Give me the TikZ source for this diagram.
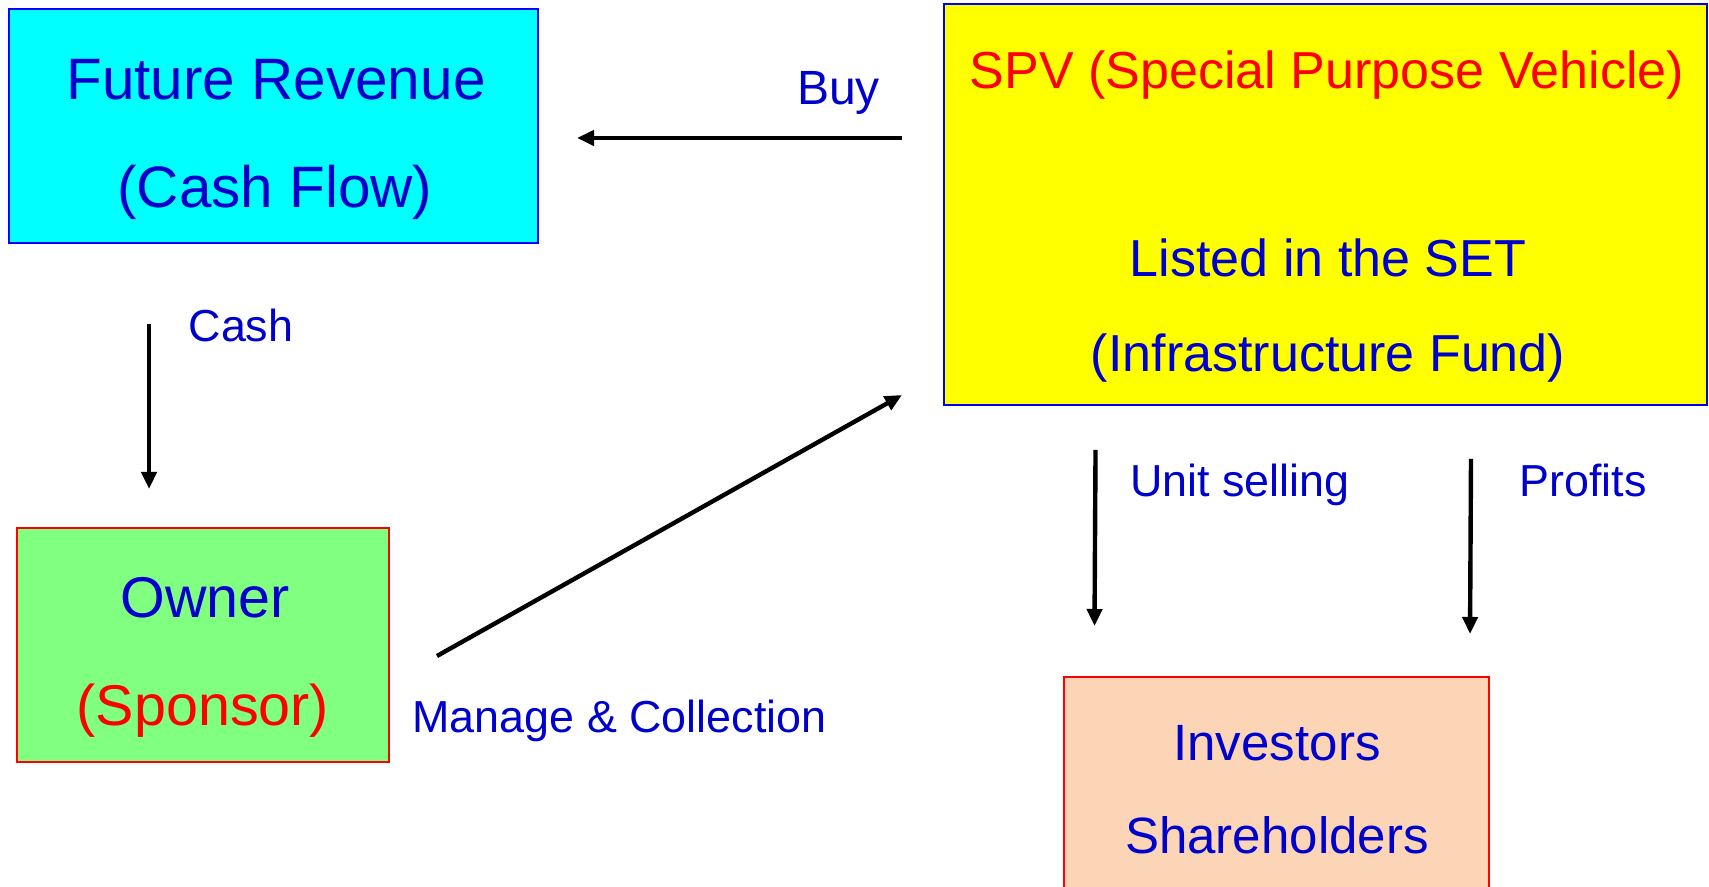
\documentclass[tikz,border=0pt]{standalone}
\usepackage{fontspec}
\setmainfont{Liberation Sans}
\usetikzlibrary{arrows.meta}

\definecolor{txtblue}{RGB}{0,0,204}
\definecolor{boxblue}{RGB}{0,0,255}
\definecolor{revcyan}{RGB}{0,255,255}
\definecolor{spvyellow}{RGB}{255,255,0}
\definecolor{owngreen}{RGB}{128,255,128}
\definecolor{invpeach}{RGB}{251,213,181}

\tikzset{
    box/.style={draw, line width=1.4pt, inner sep=0pt},
    boxtext/.style={anchor=base, inner sep=0pt, font=\fontsize{#1}{#1}\selectfont},
    lbl/.style={anchor=base, inner sep=0pt, text=txtblue, font=\fontsize{22.4}{27}\selectfont},
    flow/.style={line width=2.2pt, -{Triangle[length=8.5pt,width=7.5pt]}}
}

\begin{document}
\begin{tikzpicture}
    \useasboundingbox (0,0) rectangle (30,-15.553);

    % boxes
    \node [box, draw=boxblue, fill=revcyan, minimum width=9.286cm, minimum height=4.108cm]
        (rev) at (4.801,-2.212) {};
    \node [box, draw=boxblue, fill=spvyellow, minimum width=13.394cm, minimum height=7.039cm]
        (spv) at (23.268,-3.590) {};
    \node [box, draw=red, fill=owngreen, minimum width=6.530cm, minimum height=4.108cm]
        (own) at (3.563,-11.322) {};
    \node [box, draw=red, fill=invpeach, minimum width=7.460cm, minimum height=4.441cm]
        (inv) at (22.408,-14.105) {};

    % box texts
    \node [boxtext=29.2, text=txtblue] (revtop) at (4.845,-1.755) {Future Revenue};
    \node [boxtext=29.2, text=txtblue] (revbot) at (4.827,-3.634) {(Cash Flow)};

    \node [boxtext=26, text=red] (spvtop) at (23.294,-1.545) {SPV (Special Purpose Vehicle)};
    \node [boxtext=26, text=txtblue] (spvmid) at (23.312,-4.862) {Listed in the SET};
    \node [boxtext=26, text=txtblue] (spvbot) at (23.312,-6.530) {(Infrastructure Fund)};

    \node [boxtext=28.7, text=txtblue] (owntop) at (3.599,-10.848) {Owner};
    \node [boxtext=28.7, text=red] (ownbot) at (3.563,-12.727) {(Sponsor)};

    \node [boxtext=25.5, text=txtblue] (invtop) at (22.416,-13.341) {Investors};
    \node [boxtext=25.5, text=txtblue] (invbot) at (22.416,-14.974) {Shareholders};

    % arrow ends
    \coordinate (buyA) at (15.834,-2.422);
    \coordinate (buyB) at (10.129,-2.422);
    \coordinate (cashA) at (2.616,-5.688);
    \coordinate (cashB) at (2.616,-8.584);
    \coordinate (mngA) at (7.671,-11.515);
    \coordinate (mngB) at (15.834,-6.934);
    \coordinate (unitA) at (19.231,-7.899);
    \coordinate (unitB) at (19.213,-10.989);
    \coordinate (profA) at (25.822,-8.057);
    \coordinate (profB) at (25.805,-11.129);

    \draw [flow] (buyA) -- (buyB);
    \draw [flow] (cashA) -- (cashB);
    \draw [flow] (mngA) -- (mngB);
    \draw [flow] (unitA) -- (unitB);
    \draw [flow] (profA) -- (profB);

    % arrow labels
    \node [lbl, font=\fontsize{24}{29}\selectfont] (buy) at (14.719,-1.843) {Buy};
    \node [lbl] (cash) at (4.231,-5.986) {Cash};
    \node [lbl] (mng) at (10.875,-12.850) {Manage \& Collection};
    \node [lbl] (unit) at (21.767,-8.724) {Unit selling};
    \node [lbl] (prof) at (27.788,-8.707) {Profits};
\end{tikzpicture}
\end{document}
